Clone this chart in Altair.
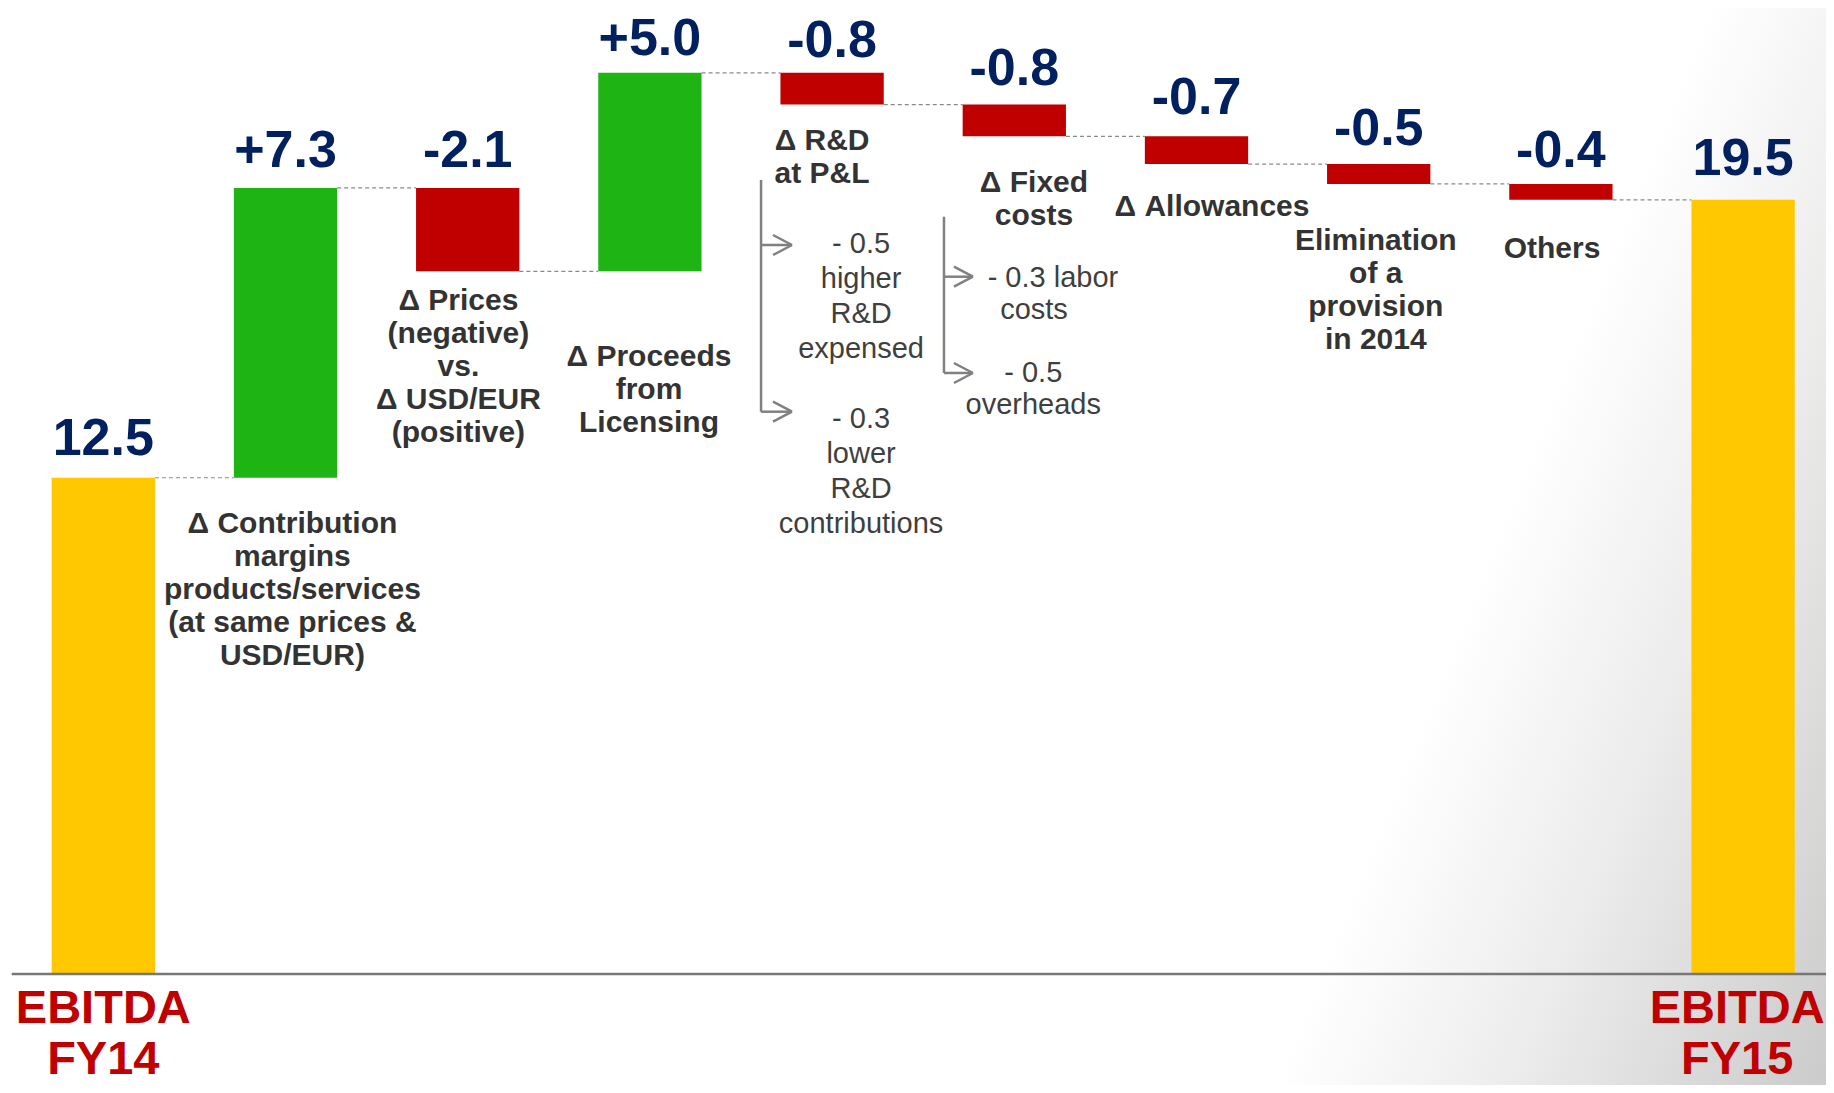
import altair as alt
import pandas as pd

# ---------------- data ----------------
steps = ["EBITDA FY14", "Contribution margins", "Prices vs USD/EUR", "Proceeds from Licensing",
         "R&D at P&L", "Fixed costs", "Allowances", "Elimination of a provision", "Others", "EBITDA FY15"]
values = [12.5, 7.3, -2.1, 5.0, -0.8, -0.8, -0.7, -0.5, -0.4, 19.5]
kinds = ["total", "delta", "delta", "delta", "delta", "delta", "delta", "delta", "delta", "total"]
value_text = ["12.5", "+7.3", "-2.1", "+5.0", "-0.8", "-0.8", "-0.7", "-0.5", "-0.4", "19.5"]

cat_text = [
    ["Δ Contribution", "margins", "products/services", "(at same prices &", "USD/EUR)"],
    ["Δ Prices", "(negative)", "vs.", "Δ USD/EUR", "(positive)"],
    ["Δ Proceeds", "from", "Licensing"],
    ["Δ R&D", "at P&L"],
    ["Δ Fixed", "costs"],
    ["Δ Allowances"],
    ["Elimination", "of a", "provision", "in 2014"],
    ["Others"],
]
# label anchor: slot (bar index units) and value units of first baseline
cat_slot = [1.038, 1.949, 2.995, 3.945, 5.108, 6.085, 6.984, 7.951]
cat_level = [11.108, 16.725, 15.327, 20.756, 19.698, 19.093, 18.237, 18.035]

sub_text = [
    ["- 0.5", "higher", "R&D", "expensed"],
    ["- 0.3", "lower", "R&D", "contributions"],
    ["- 0.3 labor"],
    ["costs"],
    ["- 0.5", "overheads"],
]
sub_slot = [4.159, 4.159, 5.212, 5.108, 5.104]
sub_level = [18.169, 13.746, 17.312, 16.499, 14.904]
sub_step = [35, 35, 32, 32, 32]

bracket_slot = [3.610, 4.614]
bracket_top = [20.00, 19.076]
bracket_arrows = [[18.363, 14.164], [17.564, 15.139]]
bracket_tip = [3.780, 4.773]

total_text = [["EBITDA", "FY14"], ["EBITDA", "FY15"]]
total_slot = [0, 9]

# ---------------- layout ----------------
W, H = 1818, 1077
PX_SLOT = 182.2      # pixels per bar slot
PX_VAL = 39.7        # pixels per EUR m
X0 = 95.3            # pixel position of slot 0
Y0 = 966.0           # pixel position of value 0
X_DOM = [-X0 / PX_SLOT, (W - X0) / PX_SLOT]
Y_DOM = [-(H - Y0) / PX_VAL, Y0 / PX_VAL]
BAR_W = 103.3 / PX_SLOT
FONT = "Liberation Sans"
label_gap = [23, 21, 21, 18, 16, 20, 22, 19, 17, 25]   # px between bar top and value label baseline
total_shift = [0, -6]                                   # px nudge of the bottom labels

xs = alt.Scale(domain=X_DOM, nice=False, zero=False)
ys = alt.Scale(domain=Y_DOM, nice=False, zero=False)

# bars
rows = []
running = 0.0
for i, (s, v, k, t) in enumerate(zip(steps, values, kinds, value_text)):
    if k == "total":
        start, end = 0.0, v
    else:
        start, end = running, running + v
    running = end
    color = "#FFC800" if k == "total" else ("#1EB414" if v > 0 else "#C00000")
    top = max(start, end)
    rows.append(dict(step=s, x1=i - BAR_W / 2, x2=i + BAR_W / 2, xc=i, start=start, end=end,
                     top=top, ly=top + label_gap[i] / PX_VAL, color=color, label=t))
bars_df = pd.DataFrame(rows)

conn_df = pd.DataFrame([
    dict(x1=rows[i]["x2"], x2=rows[i + 1]["x1"], level=rows[i]["end"]) for i in range(len(rows) - 1)
])

cat_rows = []
for lines, sx, lv in zip(cat_text, cat_slot, cat_level):
    for j, ln in enumerate(lines):
        cat_rows.append(dict(t=ln, x=sx, y=lv - j * 33 / PX_VAL))
cat_df = pd.DataFrame(cat_rows)

sub_rows = []
for lines, sx, lv, st in zip(sub_text, sub_slot, sub_level, sub_step):
    for j, ln in enumerate(lines):
        sub_rows.append(dict(t=ln, x=sx, y=lv - j * st / PX_VAL))
sub_df = pd.DataFrame(sub_rows)

seg = []
for bx, bt, arrows, tip in zip(bracket_slot, bracket_top, bracket_arrows, bracket_tip):
    seg.append(dict(x=bx, x2=bx, y=bt, y2=arrows[-1]))
    for a in arrows:
        seg.append(dict(x=bx, x2=tip, y=a, y2=a))
        for sgn in (1, -1):
            seg.append(dict(x=tip, x2=tip - 19 / PX_SLOT, y=a, y2=a + sgn * 10 / PX_VAL))
seg_df = pd.DataFrame(seg)

tot_rows = []
for lines, sx, sh in zip(total_text, total_slot, total_shift):
    for j, ln in enumerate(lines):
        tot_rows.append(dict(t=ln, x=sx + sh / PX_SLOT, y=-(49 + j * 51) / PX_VAL))
tot_df = pd.DataFrame(tot_rows)

# ---------------- chart ----------------
bg = alt.Chart(pd.DataFrame({"a": [0]})).mark_rect(
    fill={
        "gradient": "linear",
        "x1": 0, "y1": 0, "x2": 1.172, "y2": 0.2805,
        "stops": [
            {"offset": 0, "color": "#ffffff"},
            {"offset": 0.755, "color": "#ffffff"},
            {"offset": 0.86, "color": "#ececec"},
            {"offset": 1, "color": "#cbcbcb"},
        ],
    }
).encode(x=alt.value(0), x2=alt.value(W), y=alt.value(0), y2=alt.value(H))

connectors = alt.Chart(conn_df).mark_rule(color="#8a8a8a", strokeWidth=1.2, strokeDash=[4, 3]).encode(
    x=alt.X("x1:Q", scale=xs, axis=None), x2="x2:Q",
    y=alt.Y("level:Q", scale=ys, axis=None))

bars = alt.Chart(bars_df).mark_rect().encode(
    x=alt.X("x1:Q", scale=xs, axis=None), x2="x2:Q",
    y=alt.Y("start:Q", scale=ys, axis=None), y2="end:Q",
    color=alt.Color("color:N", scale=None))

axis_line = alt.Chart(pd.DataFrame({"a": [0]})).mark_rule(color="#777777", strokeWidth=2.5).encode(
    x=alt.value(3.7), x2=alt.value(W), y=alt.Y("a:Q", scale=ys, axis=None))

vlabels = alt.Chart(bars_df).mark_text(font=FONT, fontSize=52, fontWeight="bold", color="#002060",
                                       baseline="alphabetic", align="center").encode(
    x=alt.X("xc:Q", scale=xs, axis=None), y=alt.Y("ly:Q", scale=ys, axis=None), text="label:N")

clabels = alt.Chart(cat_df).mark_text(font=FONT, fontSize=30, fontWeight="bold", color="#333333",
                                      baseline="alphabetic", align="center").encode(
    x=alt.X("x:Q", scale=xs, axis=None), y=alt.Y("y:Q", scale=ys, axis=None), text="t:N")

slabels = alt.Chart(sub_df).mark_text(font=FONT, fontSize=29, color="#3f3f3f",
                                      baseline="alphabetic", align="center").encode(
    x=alt.X("x:Q", scale=xs, axis=None), y=alt.Y("y:Q", scale=ys, axis=None), text="t:N")

brackets = alt.Chart(seg_df).mark_rule(color="#808080", strokeWidth=2.5).encode(
    x=alt.X("x:Q", scale=xs, axis=None), x2="x2:Q",
    y=alt.Y("y:Q", scale=ys, axis=None), y2="y2:Q")

tlabels = alt.Chart(tot_df).mark_text(font=FONT, fontSize=47, fontWeight="bold", color="#C00000",
                                      baseline="alphabetic", align="center").encode(
    x=alt.X("x:Q", scale=xs, axis=None), y=alt.Y("y:Q", scale=ys, axis=None), text="t:N")

chart = alt.layer(bg, connectors, bars, axis_line, vlabels, clabels, slabels, brackets, tlabels).properties(
    width=W, height=H, padding=0, autosize=alt.AutoSizeParams(type="none")
).configure_view(stroke=None)

chart.save("out.html", embed_options={"renderer": "svg", "actions": False})
